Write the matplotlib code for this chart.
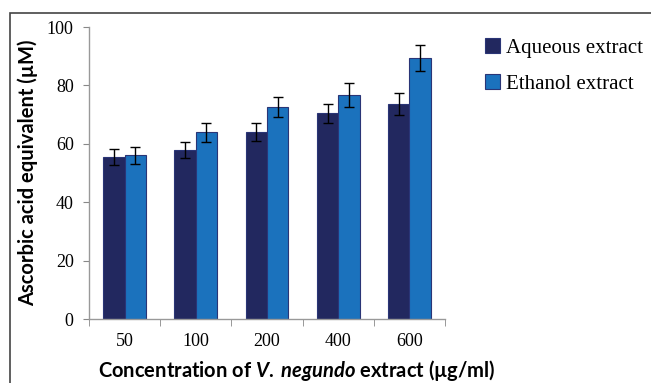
import matplotlib
matplotlib.use("Agg")
import matplotlib.pyplot as plt
import numpy as np
from matplotlib.patches import Rectangle

plt.rcParams["mathtext.fontset"] = "custom"
plt.rcParams["mathtext.bfit"] = "Lato:italic:bold"
plt.rcParams["mathtext.it"] = "Lato:italic:bold"
plt.rcParams["mathtext.rm"] = "Lato:bold"

categories = ["50", "100", "200", "400", "600"]
aqueous = [55.5, 57.8, 64.1, 70.4, 73.6]
aqueous_err = [2.7, 2.8, 3.1, 3.4, 3.7]
ethanol = [56.0, 63.9, 72.6, 76.7, 89.4]
ethanol_err = [2.8, 3.2, 3.5, 4.0, 4.5]
series_names = ["Aqueous extract", "Ethanol extract"]
yticks = [0, 20, 40, 60, 80, 100]

fig = plt.figure(figsize=(6.51, 3.83), dpi=100)
ax = fig.add_axes([89/651, 1-319/383, 356/651, 292/383])

x = np.arange(len(categories))
w = 0.3
c_aq = "#22285f"
c_et = "#1b72bd"
edge = "#2a3576"
ax.bar(x - w/2, aqueous, w, color=c_aq, edgecolor=edge, linewidth=0.8,
       yerr=aqueous_err, error_kw=dict(ecolor="black", elinewidth=1, capsize=3.5, capthick=1),
       label=series_names[0])
ax.bar(x + w/2, ethanol, w, color=c_et, edgecolor=edge, linewidth=0.8,
       yerr=ethanol_err, error_kw=dict(ecolor="black", elinewidth=1, capsize=3.5, capthick=1),
       label=series_names[1])

ax.set_xlim(-0.5, len(categories) - 0.5)
ax.set_ylim(0, 100)
ax.set_yticks(yticks)
ax.set_yticklabels([str(v) for v in yticks], fontfamily="Liberation Serif", fontsize=13)
ax.set_xticks(x)
ax.set_xticklabels(categories, fontfamily="Liberation Serif", fontsize=13)
ax.tick_params(axis="x", length=0, pad=10)
ax.set_xticks(np.arange(len(categories) + 1) - 0.5, minor=True)
ax.tick_params(axis="x", which="minor", length=5, color="#888888", direction="out")
ax.tick_params(axis="y", length=4, color="#888888", pad=7)
for s in ["top", "right"]:
    ax.spines[s].set_visible(False)
for s in ["left", "bottom"]:
    ax.spines[s].set_color("#999999")
    ax.spines[s].set_linewidth(1)

ax.set_ylabel("Ascorbic acid equivalent (µM)", fontfamily="Lato", fontweight="bold",
              fontsize=14.5, labelpad=6)
ax.set_xlabel("Concentration of $\\mathit{V.\\;negundo}$ extract (µg/ml)", fontfamily="Lato",
              fontweight="bold", fontsize=14.5, labelpad=5)
ax.xaxis.set_label_coords(0.584, -0.135)

leg = ax.legend(loc="upper left", bbox_to_anchor=(485/651, 1-38/383), bbox_transform=fig.transFigure,
                frameon=False, prop=dict(family="Liberation Serif", size=15),
                handlelength=0.7, handleheight=0.7, handletextpad=0.3, labelspacing=0.8,
                borderpad=0, borderaxespad=0)

fig.patches.append(Rectangle((10/651, -0.1), 1.2, 1 - 13/383 + 0.1, transform=fig.transFigure,
                             fill=False, edgecolor="#444444", linewidth=1.2))

fig.savefig("out.png", dpi=100)
